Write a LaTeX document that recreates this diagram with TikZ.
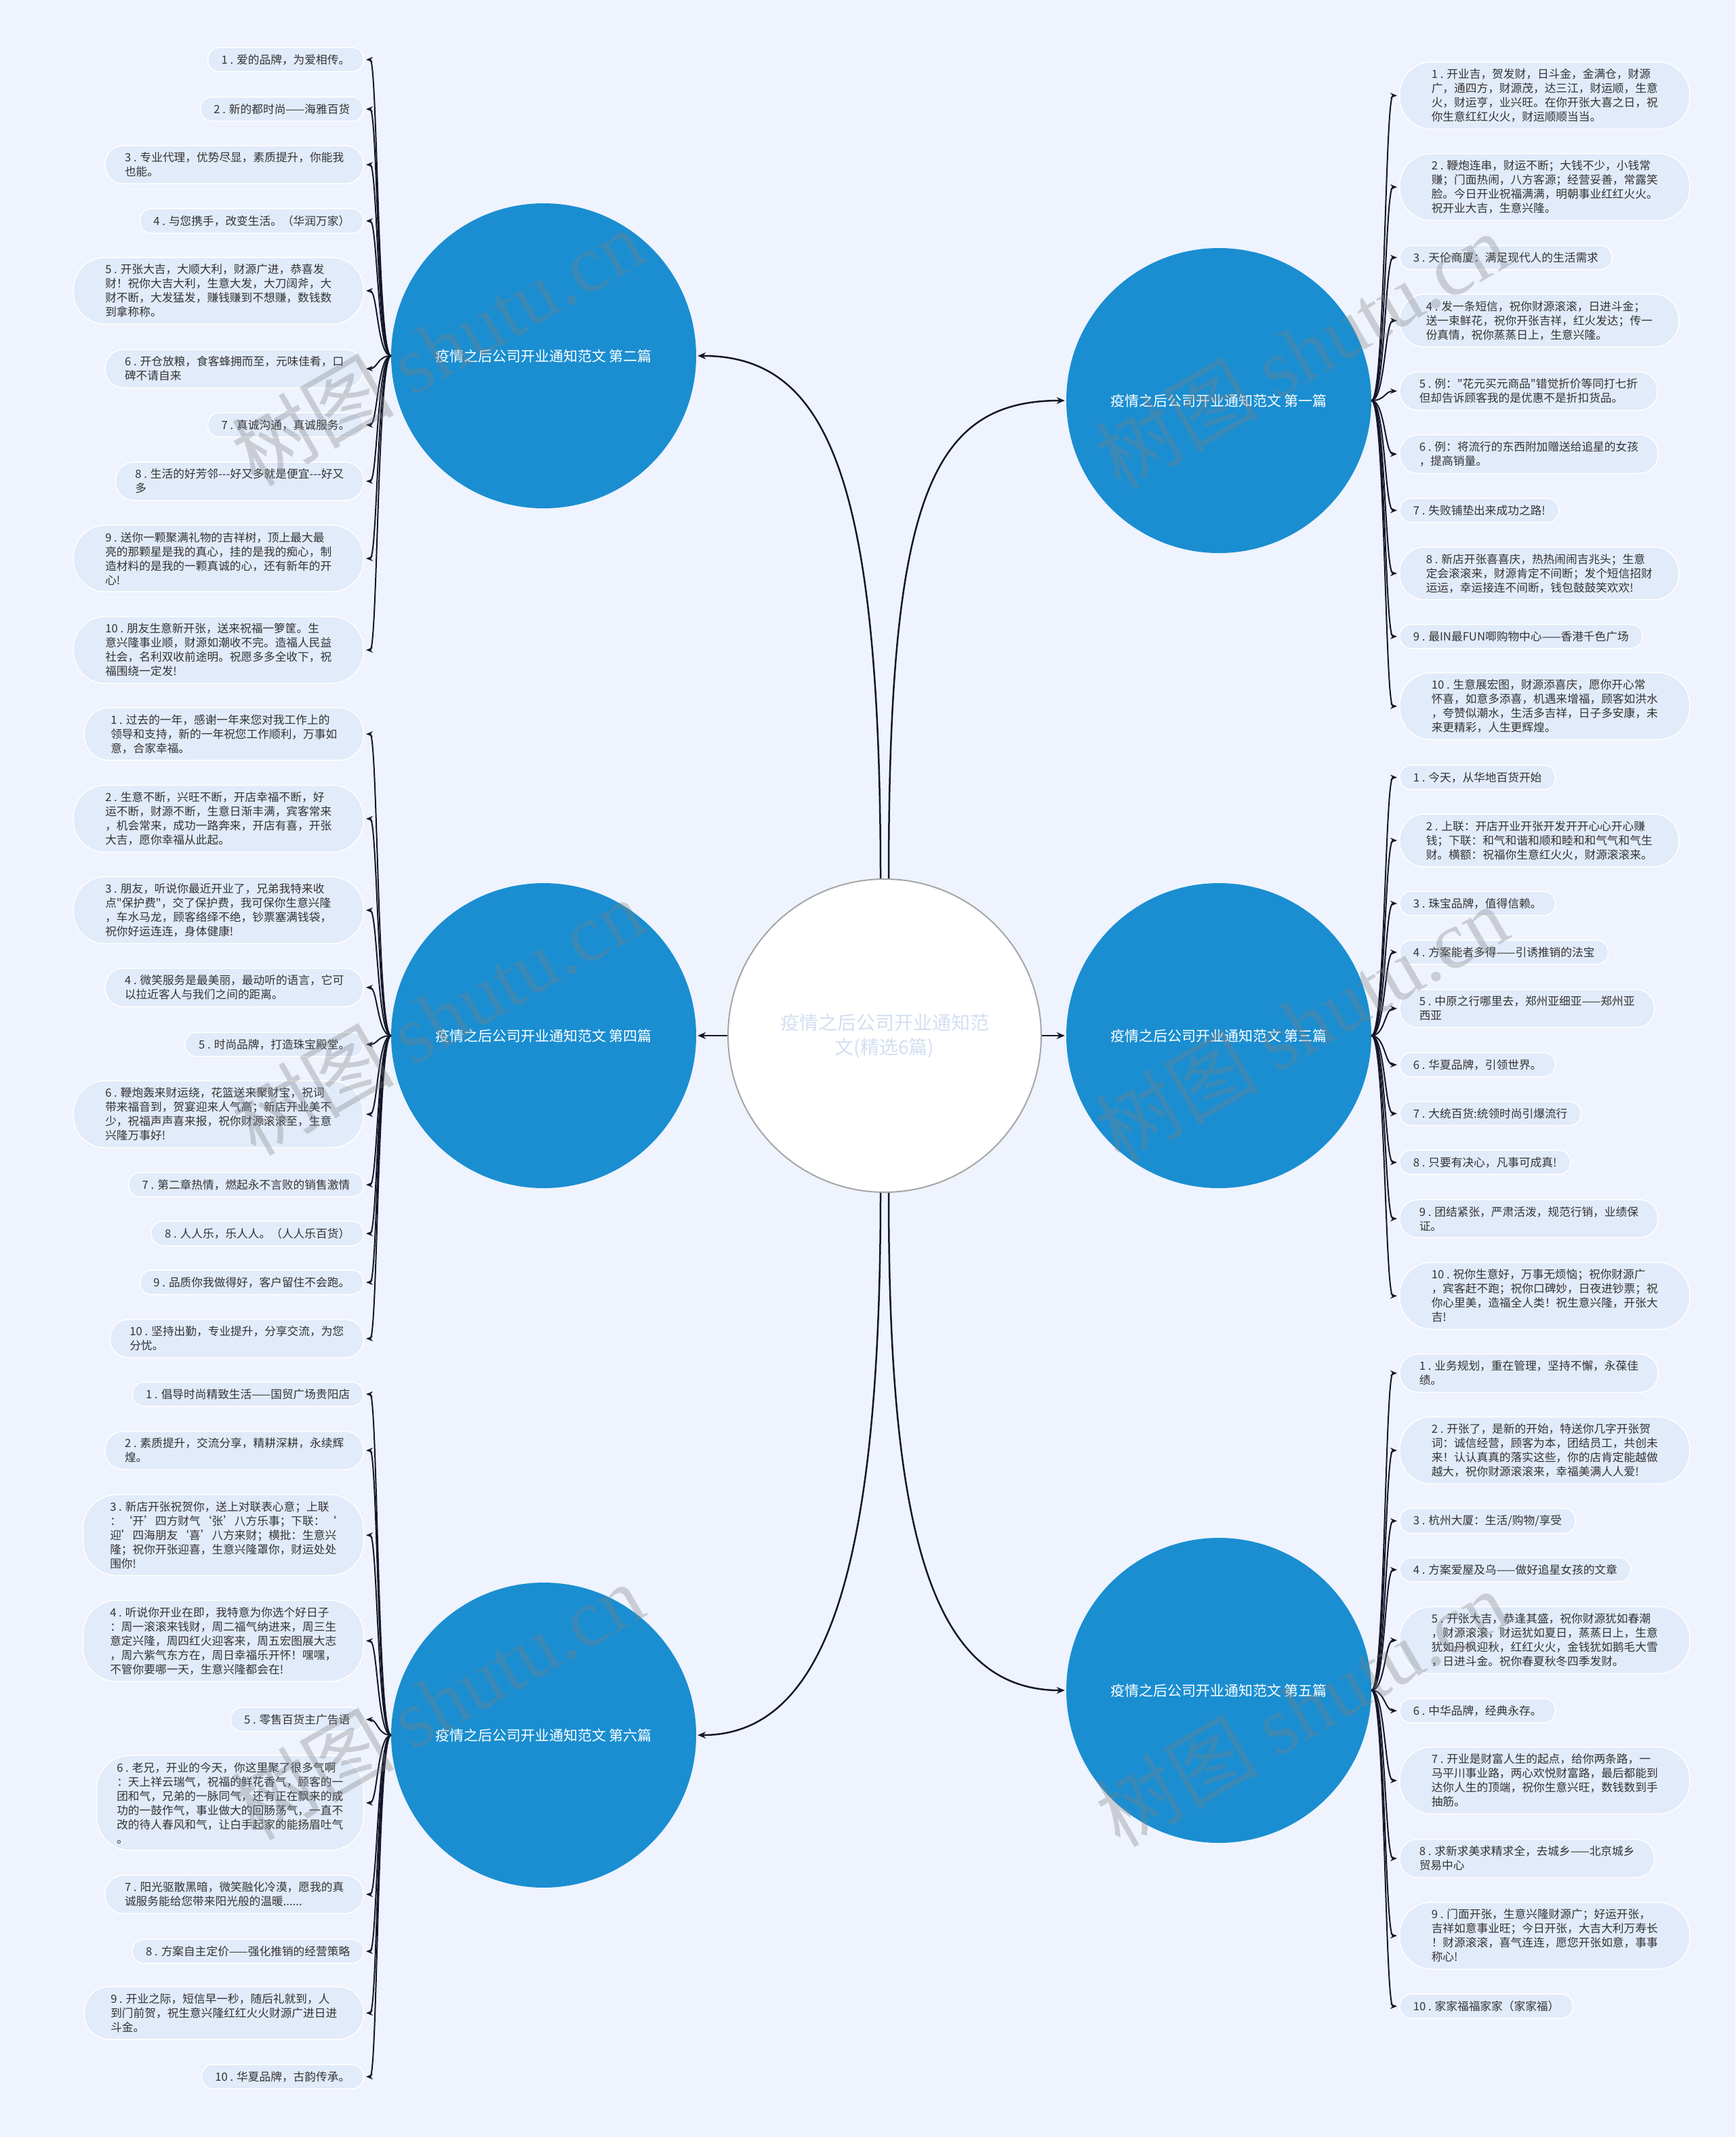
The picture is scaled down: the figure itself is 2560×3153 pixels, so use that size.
\documentclass[tikz,border=0pt]{standalone}
\usepackage{fontspec}
\setmainfont{Noto Sans CJK SC}
\newfontfamily\cjk{Noto Sans CJK SC}
\newfontfamily\wmlat{Liberation Serif}
\usetikzlibrary{arrows.meta,calc}
\definecolor{bgc}{HTML}{EEF3FD}
\definecolor{leafbg}{HTML}{E2EBFA}
\definecolor{leaftxt}{HTML}{333333}
\definecolor{bluec}{HTML}{1A8ED1}
\definecolor{linec}{HTML}{16162A}
\definecolor{ctrtxt}{HTML}{D3DFF1}
\newcommand\lffont{\cjk\fontsize{16.7pt}{21pt}\selectfont}
\newcommand\brfont{\cjk\fontsize{21pt}{26pt}\selectfont}
\newcommand\ctfont{\cjk\fontsize{28pt}{36pt}\selectfont}
\newcommand\wmfont{\cjk\fontsize{120pt}{120pt}\selectfont}
\tikzset{
  leaf/.style={draw=white, line width=1.5pt, fill=leafbg, text=leaftxt, font=\lffont, align=left, inner ysep=10pt},
  n1/.style={leaf, inner xsep=20pt, rounded corners=17pt},
  n2/.style={leaf, inner xsep=29pt, rounded corners=27pt},
  n3/.style={leaf, inner xsep=39pt, rounded corners=37pt},
  n4/.style={leaf, inner xsep=47pt, rounded corners=47pt},
  n5/.style={leaf, inner xsep=40pt, rounded corners=50pt},
  n6/.style={leaf, inner xsep=30pt, rounded corners=50pt},
  brn/.style={circle, fill=bluec, minimum size=450pt, inner sep=0pt, text=white, font=\brfont},
  ctrn/.style={circle, draw=gray!70, line width=2pt, fill=white, minimum size=462pt, inner sep=0pt, align=center, text=ctrtxt, font=\ctfont},
  mk/.style={draw=linec, line width=2.5pt, -{Stealth[length=12pt,width=10pt]}, shorten >=2pt},
  lk/.style={draw=linec, line width=2pt, -{Stealth[length=10pt,width=8pt]}, shorten >=3pt},
  wm/.style={rotate=30, text=gray, text opacity=0.33, font=\wmfont}
}
\begin{document}
\begin{tikzpicture}[x=1pt,y=-1pt]
\fill[bgc] (0,0) rectangle (2560,3153);
\useasboundingbox (0,0) rectangle (2560,3153);

% center and branches
\node[ctrn] (ctr) at (1305,1528) {疫情之后公司开业通知范\\文(精选6篇)};
\node[brn] (b2) at (802,525) {疫情之后公司开业通知范文 第二篇};
\node[brn] (b1) at (1798,591) {疫情之后公司开业通知范文 第一篇};
\node[brn] (b4) at (802,1528) {疫情之后公司开业通知范文 第四篇};
\node[brn] (b3) at (1798,1528) {疫情之后公司开业通知范文 第三篇};
\node[brn] (b6) at (802,2560) {疫情之后公司开业通知范文 第六篇};
\node[brn] (b5) at (1798,2494) {疫情之后公司开业通知范文 第五篇};

% group 2 (left top)
\node[n1,anchor=east] (a1) at (537,88) {1 . 爱的品牌，为爱相传。};
\node[n1,anchor=east] (a2) at (537,161) {2 . 新的都时尚——海雅百货};
\node[n2,anchor=east] (a3) at (537,243) {3 . 专业代理，优势尽显，素质提升，你能我\\也能。};
\node[n1,anchor=east] (a4) at (537,326) {4 . 与您携手，改变生活。（华润万家）};
\node[n4,anchor=east] (a5) at (537,429) {5 . 开张大吉，大顺大利，财源广进，恭喜发\\财！祝你大吉大利，生意大发，大刀阔斧，大\\财不断，大发猛发，赚钱赚到不想赚，数钱数\\到拿称称。};
\node[n2,anchor=east] (a6) at (537,544) {6 . 开仓放粮，食客蜂拥而至，元味佳肴，口\\碑不请自来};
\node[n1,anchor=east] (a7) at (537,627) {7 . 真诚沟通，真诚服务。};
\node[n2,anchor=east] (a8) at (537,710) {8 . 生活的好芳邻\mbox{-}\mbox{-}\mbox{-}好又多就是便宜\mbox{-}\mbox{-}\mbox{-}好又\\多};
\node[n4,anchor=east] (a9) at (537,824) {9 . 送你一颗聚满礼物的吉祥树，顶上最大最\\亮的那颗星是我的真心，挂的是我的痴心，制\\造材料的是我的一颗真诚的心，还有新年的开\\心!};
\node[n4,anchor=east] (a10) at (537,959) {10 . 朋友生意新开张，送来祝福一箩筐。生\\意兴隆事业顺，财源如潮收不完。造福人民益\\社会，名利双收前途明。祝愿多多全收下，祝\\福围绕一定发!};

% group 4 (left middle)
\node[n3,anchor=east] (d1) at (537,1083) {1 . 过去的一年，感谢一年来您对我工作上的\\领导和支持，新的一年祝您工作顺利，万事如\\意，合家幸福。};
\node[n4,anchor=east] (d2) at (537,1208) {2 . 生意不断，兴旺不断，开店幸福不断，好\\运不断，财源不断，生意日渐丰满，宾客常来\\，机会常来，成功一路奔来，开店有喜，开张\\大吉，愿你幸福从此起。};
\node[n4,anchor=east] (d3) at (537,1343) {3 . 朋友，听说你最近开业了，兄弟我特来收\\点"保护费"，交了保护费，我可保你生意兴隆\\，车水马龙，顾客络绎不绝，钞票塞满钱袋，\\祝你好运连连，身体健康!};
\node[n2,anchor=east] (d4) at (537,1457) {4 . 微笑服务是最美丽，最动听的语言，它可\\以拉近客人与我们之间的距离。};
\node[n1,anchor=east] (d5) at (537,1541) {5 . 时尚品牌，打造珠宝殿堂。};
\node[n4,anchor=east] (d6) at (537,1644) {6 . 鞭炮轰来财运绕，花篮送来聚财宝，祝词\\带来福音到，贺宴迎来人气高；新店开业美不\\少，祝福声声喜来报，祝你财源滚滚至，生意\\兴隆万事好!};
\node[n1,anchor=east] (d7) at (537,1748) {7 . 第二章热情，燃起永不言败的销售激情};
\node[n1,anchor=east] (d8) at (537,1820) {8 . 人人乐，乐人人。（人人乐百货）};
\node[n1,anchor=east] (d9) at (537,1892) {9 . 品质你我做得好，客户留住不会跑。};
\node[n2,anchor=east] (d10) at (537,1975) {10 . 坚持出勤，专业提升，分享交流，为您\\分忧。};

% group 6 (left bottom)
\node[n1,anchor=east] (f1) at (537,2057) {1 . 倡导时尚精致生活——国贸广场贵阳店};
\node[n2,anchor=east] (f2) at (537,2140) {2 . 素质提升，交流分享，精耕深耕，永续辉\\煌。};
\node[n5,anchor=east] (f3) at (537,2265) {3 . 新店开张祝贺你，送上对联表心意；上联\\：‘开’四方财气‘张’八方乐事；下联：‘\\迎’四海朋友‘喜’八方来财；横批：生意兴\\隆；祝你开张迎喜，生意兴隆罩你，财运处处\\围你!};
\node[n5,anchor=east] (f4) at (537,2421) {4 . 听说你开业在即，我特意为你选个好日子\\：周一滚滚来钱财，周二福气纳进来，周三生\\意定兴隆，周四红火迎客来，周五宏图展大志\\，周六紫气东方在，周日幸福乐开怀！嘿嘿，\\不管你要哪一天，生意兴隆都会在!};
\node[n1,anchor=east] (f5) at (537,2537) {5 . 零售百货主广告语};
\node[n6,anchor=east] (f6) at (537,2660) {6 . 老兄，开业的今天，你这里聚了很多气啊\\：天上祥云瑞气，祝福的鲜花香气，顾客的一\\团和气，兄弟的一脉同气，还有正在飘来的成\\功的一鼓作气，事业做大的回肠荡气，一直不\\改的待人春风和气，让白手起家的能扬眉吐气\\。};
\node[n2,anchor=east] (f7) at (537,2795) {7 . 阳光驱散黑暗，微笑融化冷漠，愿我的真\\诚服务能给您带来阳光般的温暖......};
\node[n1,anchor=east] (f8) at (537,2879) {8 . 方案自主定价——强化推销的经营策略};
\node[n3,anchor=east] (f9) at (537,2970) {9 . 开业之际，短信早一秒，随后礼就到，人\\到门前贺，祝生意兴隆红红火火财源广进日进\\斗金。};
\node[n1,anchor=east] (f10) at (537,3064) {10 . 华夏品牌，古韵传承。};

% group 1 (right top)
\node[n4,anchor=west] (c1) at (2064,141) {1 . 开业吉，贺发财，日斗金，金满仓，财源\\广，通四方，财源茂，达三江，财运顺，生意\\火，财运亨，业兴旺。在你开张大喜之日，祝\\你生意红红火火，财运顺顺当当。};
\node[n4,anchor=west] (c2) at (2064,276) {2 . 鞭炮连串，财运不断；大钱不少，小钱常\\赚；门面热闹，八方客源；经营妥善，常露笑\\脸。今日开业祝福满满，明朝事业红红火火。\\祝开业大吉，生意兴隆。};
\node[n1,anchor=west] (c3) at (2064,380) {3 . 天伦商厦：满足现代人的生活需求};
\node[n3,anchor=west] (c4) at (2064,473) {4 . 发一条短信，祝你财源滚滚，日进斗金；\\送一束鲜花，祝你开张吉祥，红火发达；传一\\份真情，祝你蒸蒸日上，生意兴隆。};
\node[n2,anchor=west] (c5) at (2064,577) {5 . 例："花元买元商品"错觉折价等同打七折\\但却告诉顾客我的是优惠不是折扣货品。};
\node[n2,anchor=west] (c6) at (2064,670) {6 . 例：将流行的东西附加赠送给追星的女孩\\，提高销量。};
\node[n1,anchor=west] (c7) at (2064,753) {7 . 失败铺垫出来成功之路!};
\node[n3,anchor=west] (c8) at (2064,846) {8 . 新店开张喜喜庆，热热闹闹吉兆头；生意\\定会滚滚来，财源肯定不间断；发个短信招财\\运运，幸运接连不间断，钱包鼓鼓笑欢欢!};
\node[n1,anchor=west] (c9) at (2064,939) {9 . 最IN最FUN唧购物中心——香港千色广场};
\node[n4,anchor=west] (c10) at (2064,1042) {10 . 生意展宏图，财源添喜庆，愿你开心常\\怀喜，如意多添喜，机遇来增福，顾客如洪水\\，夸赞似潮水，生活多吉祥，日子多安康，未\\来更精彩，人生更辉煌。};

% group 3 (right middle)
\node[n1,anchor=west] (e1) at (2064,1147) {1 . 今天，从华地百货开始};
\node[n3,anchor=west] (e2) at (2064,1240) {2 . 上联：开店开业开张开发开开心心开心赚\\钱；下联：和气和谐和顺和睦和和气气和气生\\财。横额：祝福你生意红火火，财源滚滚来。};
\node[n1,anchor=west] (e3) at (2064,1333) {3 . 珠宝品牌，值得信赖。};
\node[n1,anchor=west] (e4) at (2064,1405) {4 . 方案能者多得——引诱推销的法宝};
\node[n2,anchor=west] (e5) at (2064,1488) {5 . 中原之行哪里去，郑州亚细亚——郑州亚\\西亚};
\node[n1,anchor=west] (e6) at (2064,1571) {6 . 华夏品牌，引领世界。};
\node[n1,anchor=west] (e7) at (2064,1643) {7 . 大统百货:统领时尚引爆流行};
\node[n1,anchor=west] (e8) at (2064,1715) {8 . 只要有决心，凡事可成真!};
\node[n2,anchor=west] (e9) at (2064,1798) {9 . 团结紧张，严肃活泼，规范行销，业绩保\\证。};
\node[n4,anchor=west] (e10) at (2064,1912) {10 . 祝你生意好，万事无烦恼；祝你财源广\\，宾客赶不跑；祝你口碑妙，日夜进钞票；祝\\你心里美，造福全人类！祝生意兴隆，开张大\\吉!};

% group 5 (right bottom)
\node[n2,anchor=west] (g1) at (2064,2026) {1 . 业务规划，重在管理，坚持不懈，永葆佳\\绩。};
\node[n4,anchor=west] (g2) at (2064,2140) {2 . 开张了，是新的开始，特送你几字开张贺\\词：诚信经营，顾客为本，团结员工，共创未\\来！认认真真的落实这些，你的店肯定能越做\\越大，祝你财源滚滚来，幸福美满人人爱!};
\node[n1,anchor=west] (g3) at (2064,2244) {3 . 杭州大厦：生活/购物/享受};
\node[n1,anchor=west] (g4) at (2064,2316) {4 . 方案爱屋及乌——做好追星女孩的文章};
\node[n4,anchor=west] (g5) at (2064,2420) {5 . 开张大吉，恭逢其盛，祝你财源犹如春潮\\，财源滚滚，财运犹如夏日，蒸蒸日上，生意\\犹如丹枫迎秋，红红火火，金钱犹如鹅毛大雪\\，日进斗金。祝你春夏秋冬四季发财。};
\node[n1,anchor=west] (g6) at (2064,2524) {6 . 中华品牌，经典永存。};
\node[n4,anchor=west] (g7) at (2064,2627) {7 . 开业是财富人生的起点，给你两条路，一\\马平川事业路，两心欢悦财富路，最后都能到\\达你人生的顶端，祝你生意兴旺，数钱数到手\\抽筋。};
\node[n2,anchor=west] (g8) at (2064,2742) {8 . 求新求美求精求全，去城乡——北京城乡\\贸易中心};
\node[n4,anchor=west] (g9) at (2064,2856) {9 . 门面开张，生意兴隆财源广；好运开张，\\吉祥如意事业旺；今日开张，大吉大利万寿长\\！财源滚滚，喜气连连，愿您开张如意，事事\\称心!};
\node[n1,anchor=west] (g10) at (2064,2960) {10 . 家家福福家家（家家福）};

% main connectors
\draw[mk] ([xshift=-6pt]ctr.north) .. controls +(0,-600) and +(190,0) .. (b2.east);
\draw[mk] ([xshift=6pt]ctr.north) .. controls +(0,-560) and +(-200,0) .. (b1.west);
\draw[mk] (ctr.west) -- (b4.east);
\draw[mk] (ctr.east) -- (b3.west);
\draw[mk] ([xshift=-6pt]ctr.south) .. controls +(0,560) and +(190,0) .. (b6.east);
\draw[mk] ([xshift=6pt]ctr.south) .. controls +(0,500) and +(-200,0) .. (b5.west);

% leaf connectors
\foreach \i in {1,...,10}{
  \draw[lk] (b2.west) .. controls +(-20,0) and +(20,0) .. (a\i.east);
  \draw[lk] (b4.west) .. controls +(-20,0) and +(20,0) .. (d\i.east);
  \draw[lk] (b6.west) .. controls +(-20,0) and +(20,0) .. (f\i.east);
  \draw[lk] (b1.east) .. controls +(20,0) and +(-21,0) .. (c\i.west);
  \draw[lk] (b3.east) .. controls +(20,0) and +(-21,0) .. (e\i.west);
  \draw[lk] (b5.east) .. controls +(20,0) and +(-21,0) .. (g\i.west);
}

% watermarks
\node[wm] (w1) at (645,512) {树图 {\wmlat shutu.cn}};
\node[wm] (w2) at (1920,517) {树图 {\wmlat shutu.cn}};
\node[wm] (w3) at (645,1500) {树图 {\wmlat shutu.cn}};
\node[wm] (w4) at (1920,1510) {树图 {\wmlat shutu.cn}};
\node[wm] (w5) at (645,2510) {树图 {\wmlat shutu.cn}};
\node[wm] (w6) at (1920,2520) {树图 {\wmlat shutu.cn}};
\end{tikzpicture}
\end{document}
